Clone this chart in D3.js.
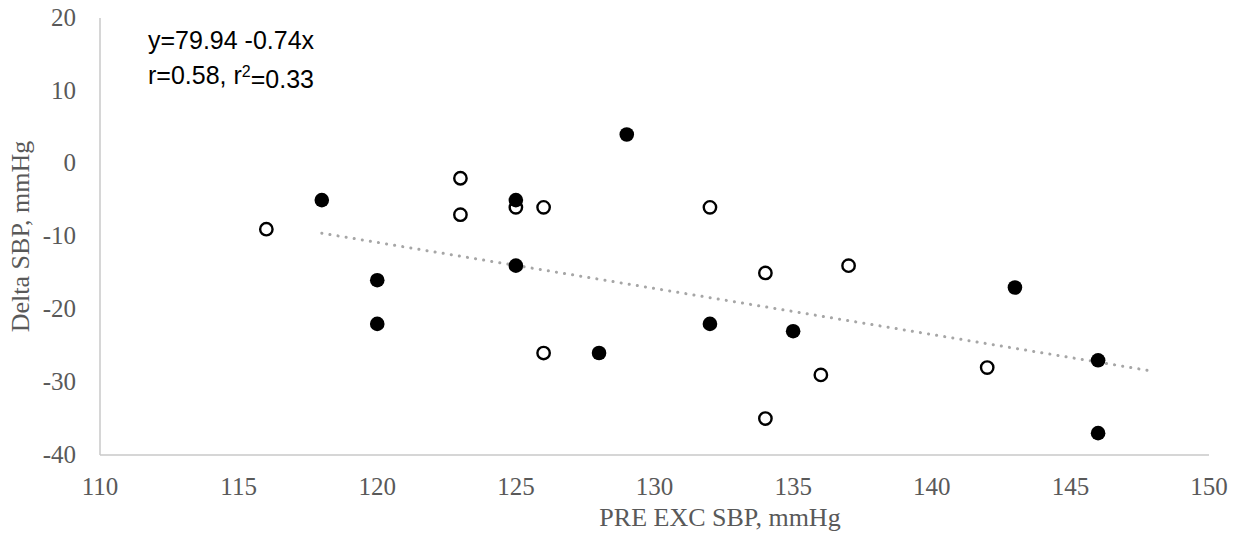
<!DOCTYPE html>
<html>
<head>
<meta charset="utf-8">
<script src="https://cdn.jsdelivr.net/npm/d3@7"></script>
<style>
  body { margin: 0; background: #fff; }
  .tick-label { font-family: "Liberation Serif", serif; font-size: 25px; fill: #595959; }
  .axis-title { font-family: "Liberation Serif", serif; font-size: 26px; fill: #595959; }
  .note { font-family: "Liberation Sans", "Open Sans", sans-serif; font-size: 25px; fill: #000; }
</style>
</head>
<body>
<div id="chart"></div>
<script>
// pre-exercise SBP (x) vs change in SBP (y)
var openX = [116, 123, 123, 125, 126, 126, 132, 134, 134, 137, 136, 142];
var openY = [-9, -2, -7, -6, -6, -26, -6, -15, -35, -14, -29, -28];
var filledX = [118, 120, 120, 125, 125, 128, 129, 132, 135, 143, 146, 146];
var filledY = [-5, -16, -22, -5, -14, -26, 4, -22, -23, -17, -27, -37];
var xTicks = [110, 115, 120, 125, 130, 135, 140, 145, 150];
var yTicks = [-40, -30, -20, -10, 0, 10, 20];
var noteLines = ["y=79.94 -0.74x", "r=0.58, r", "2", "=0.33"];

var W = 1238, H = 542;
var margin = { top: 18, right: 29, bottom: 87, left: 100 },
  width = W - margin.left - margin.right,
  height = H - margin.top - margin.bottom;

var x = d3.scaleLinear().domain([110, 150]).range([0, width]);
var y = d3.scaleLinear().domain([-40, 20]).range([height, 0]);

var svg = d3.select("#chart").append("svg")
  .attr("width", W)
  .attr("height", H)
  .append("g")
  .attr("transform", "translate(" + margin.left + "," + margin.top + ")");

// axis lines
svg.append("line")
  .attr("x1", 0).attr("x2", 0).attr("y1", 0).attr("y2", height)
  .style("stroke", "#c9c9c9").style("stroke-width", 1.5);
svg.append("line")
  .attr("x1", 0).attr("x2", width).attr("y1", height).attr("y2", height)
  .style("stroke", "#c9c9c9").style("stroke-width", 1.5);

// tick labels
svg.selectAll(".xlab")
  .data(xTicks)
  .enter()
  .append("text")
  .attr("class", "tick-label")
  .attr("x", function (d) { return x(d); })
  .attr("y", height + 31)
  .attr("dy", "0.35em")
  .style("text-anchor", "middle")
  .text(function (d) { return d; });

svg.selectAll(".ylab")
  .data(yTicks)
  .enter()
  .append("text")
  .attr("class", "tick-label")
  .attr("x", -24)
  .attr("y", function (d) { return y(d) - 1; })
  .attr("dy", "0.35em")
  .style("text-anchor", "end")
  .text(function (d) { return d; });

// axis titles
svg.append("text")
  .attr("class", "axis-title")
  .attr("transform", "translate(" + (720 - margin.left) + "," + (height + 62) + ")")
  .attr("dy", "0.35em")
  .style("text-anchor", "middle")
  .text("PRE EXC SBP, mmHg");

svg.append("text")
  .attr("class", "axis-title")
  .attr("transform", "translate(" + (20 - margin.left) + "," + (height / 2) + ") rotate(-90)")
  .attr("dy", "0.35em")
  .style("text-anchor", "middle")
  .text("Delta SBP, mmHg");

// least squares trend for the filled series, forecast forward 2 units
var filled = filledX.map(function (d, i) { return { x: d, y: filledY[i] }; });
var open = openX.map(function (d, i) { return { x: d, y: openY[i] }; });
var mx = d3.mean(filledX), my = d3.mean(filledY);
var sxy = d3.sum(filled, function (d) { return (d.x - mx) * (d.y - my); });
var sxx = d3.sum(filled, function (d) { return (d.x - mx) * (d.x - mx); });
var slope = sxy / sxx, icpt = my - slope * mx;
var trendX = [d3.min(filledX), d3.max(filledX) + 2];

svg.append("path")
  .datum(trendX)
  .attr("d", d3.line()
    .x(function (d) { return x(d); })
    .y(function (d) { return y(icpt + slope * d); }))
  .style("fill", "none")
  .style("stroke", "#a6a6a6")
  .style("stroke-width", 3)
  .style("stroke-linecap", "round")
  .style("stroke-dasharray", "0.1 8.1");

// points
svg.selectAll(".open")
  .data(open)
  .enter()
  .append("circle")
  .attr("cx", function (d) { return x(d.x); })
  .attr("cy", function (d) { return y(d.y); })
  .attr("r", 6.2)
  .style("fill", "#fff")
  .style("stroke", "#000")
  .style("stroke-width", 2.4);

svg.selectAll(".filled")
  .data(filled)
  .enter()
  .append("circle")
  .attr("cx", function (d) { return x(d.x); })
  .attr("cy", function (d) { return y(d.y); })
  .attr("r", 7.3)
  .style("fill", "#000");

// regression note
svg.append("text")
  .attr("class", "note")
  .attr("x", 148 - margin.left)
  .attr("y", 40 - margin.top)
  .attr("dy", "0.35em")
  .text(noteLines[0]);

var t2 = svg.append("text")
  .attr("class", "note")
  .attr("x", 148 - margin.left)
  .attr("y", 75 - margin.top)
  .attr("dy", "0.35em");
t2.append("tspan").text(noteLines[1]);
t2.append("tspan").attr("dy", "-0.45em").style("font-size", "16px").text(noteLines[2]);
t2.append("tspan").attr("dy", "0.45em").text(noteLines[3]);
</script>
</body>
</html>
